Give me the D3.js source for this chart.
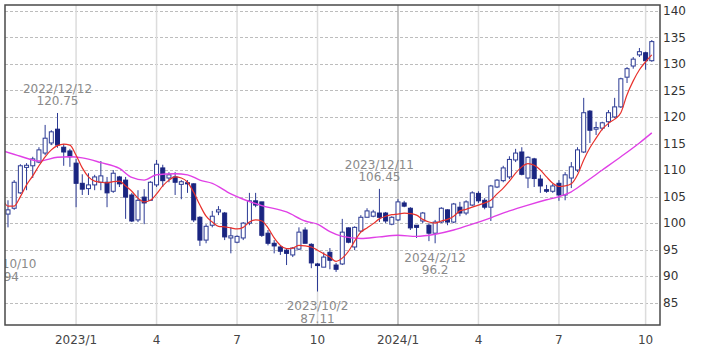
<!DOCTYPE html>
<html>
<head>
<meta charset="utf-8">
<script src="https://cdn.jsdelivr.net/npm/d3@7"></script>
<style>
  body { margin: 0; background: #fff; }
  text { font-family: "DejaVu Sans", Verdana, sans-serif; }
</style>
</head>
<body>
<div id="chart"></div>
<script>
// weekly candles, first week 2022/10/10
const firstWeek = "2022-10-10";

const opens = [
  103.5, 101.7, 102.8, 105.7, 110.5, 110.8, 111.5, 113.2, 115.1, 117.7,
  114.3, 113.6, 111.3, 107.5, 106.5, 107.2, 107.7, 107.7, 106.0, 108.7,
  108.1, 105.3, 100.6, 104.9, 104.3, 107.2, 110.4, 108.5, 108.7, 107.3,
  107.6, 107.4, 101.1, 96.8, 99.6, 102.1, 101.9, 97.2, 96.4, 97.2,
  100.0, 104.2, 104.0, 98.1, 96.2, 95.5, 94.9, 94.0, 95.1, 98.7,
  96.0, 92.3, 91.7, 94.5, 92.1, 92.3, 99.1, 95.5, 98.5, 101.1,
  101.3, 101.9, 101.9, 99.8, 100.6, 103.8, 102.8, 99.6, 100.4, 99.6,
  98.1, 100.2, 102.5, 100.2, 103.0, 101.9, 103.4, 105.6, 104.3, 103.0,
  106.8, 108.0, 108.7, 111.9, 113.4, 108.5, 112.1, 108.3, 106.3, 106.0,
  107.5, 105.3, 108.5, 110.0, 113.4, 121.1, 117.7, 117.9, 119.1, 120.0,
  121.9, 127.5, 129.6, 131.7, 132.1, 130.6
];
const highs = [
  104.0, 104.3, 108.1, 111.1, 111.3, 112.5, 114.3, 118.5, 117.5, 120.75,
  114.9, 114.0, 112.1, 109.2, 109.4, 109.1, 111.7, 108.7, 110.0, 108.9,
  108.7, 105.7, 106.2, 106.4, 107.9, 111.9, 111.0, 109.6, 109.6, 108.1,
  108.1, 107.5, 101.3, 99.8, 102.3, 103.2, 102.1, 99.2, 97.7, 100.2,
  105.7, 105.7, 104.0, 98.7, 96.8, 95.8, 95.3, 95.5, 99.2, 99.2,
  96.2, 92.5, 94.5, 95.3, 92.5, 100.8, 99.2, 99.4, 101.5, 102.8,
  102.5, 106.45, 102.1, 101.3, 104.5, 104.2, 103.0, 99.6, 102.1, 100.0,
  100.6, 103.0, 102.6, 103.8, 104.0, 104.3, 106.0, 106.0, 104.7, 107.2,
  108.3, 110.8, 112.6, 114.0, 114.3, 112.6, 112.3, 109.1, 107.2, 107.4,
  108.1, 109.6, 111.5, 114.3, 123.6, 121.3, 119.1, 119.1, 121.3, 123.6,
  127.4, 129.4, 131.3, 133.0, 132.3, 134.5
];
const lows = [
  94.94, 99.2, 102.5, 105.5, 106.2, 108.5, 111.3, 112.8, 114.7, 114.2,
  110.8, 110.6, 103.0, 105.3, 105.3, 106.2, 106.2, 103.0, 105.7, 106.8,
  100.8, 100.2, 100.2, 99.8, 104.2, 106.8, 106.8, 107.7, 105.3, 104.5,
  105.7, 100.2, 95.7, 96.2, 99.2, 101.5, 96.8, 94.3, 96.2, 96.8,
  99.6, 103.0, 97.4, 95.8, 94.3, 94.0, 92.1, 93.6, 94.9, 96.2,
  91.5, 87.11, 91.7, 91.3, 90.8, 92.1, 96.2, 94.9, 98.3, 101.1,
  101.1, 100.2, 100.0, 99.6, 100.4, 103.0, 98.7, 97.2, 100.0, 96.6,
  96.2, 100.0, 99.6, 100.0, 101.3, 101.5, 103.2, 103.8, 102.6, 100.4,
  106.6, 107.7, 108.3, 111.5, 109.0, 106.6, 106.8, 105.7, 105.7, 105.7,
  104.2, 104.3, 106.6, 109.6, 113.2, 115.1, 116.6, 117.5, 118.1, 119.8,
  121.7, 126.4, 129.1, 131.3, 128.9, 130.4
];
const closes = [
  101.0, 102.5, 107.7, 110.8, 110.9, 112.1, 113.8, 116.0, 117.2, 114.7,
  113.4, 112.5, 107.5, 106.4, 107.2, 108.7, 108.9, 105.7, 109.4, 107.4,
  104.9, 100.4, 104.3, 103.8, 107.7, 111.1, 108.0, 109.1, 107.7, 107.8,
  107.4, 100.6, 96.8, 99.4, 101.3, 102.5, 97.4, 97.6, 97.5, 100.0,
  104.2, 103.4, 97.7, 96.2, 95.7, 94.7, 94.3, 95.3, 98.3, 96.2,
  92.5, 92.0, 93.6, 93.0, 91.3, 98.3, 96.4, 99.2, 101.1, 102.3,
  102.1, 101.1, 100.4, 101.1, 104.0, 103.2, 99.1, 99.2, 101.9, 98.1,
  100.2, 102.8, 100.2, 103.6, 101.9, 104.0, 105.7, 104.2, 103.0, 107.0,
  108.1, 110.4, 112.0, 113.2, 109.2, 112.4, 108.4, 107.0, 106.0, 107.0,
  105.3, 109.1, 110.6, 113.8, 120.8, 117.5, 118.0, 118.9, 120.8, 121.9,
  127.2, 129.1, 130.9, 132.3, 130.6, 134.2
];

// short moving average (red), one value per week
const maShort = [
  104.9, 103.2, 103.2, 105.0, 107.2, 108.9, 110.8, 112.5, 113.8, 114.6,
  114.9, 114.7, 112.8, 110.4, 108.7, 107.9, 107.7, 107.6, 107.8, 107.9,
  107.0, 106.0, 104.7, 104.0, 104.3, 105.5, 107.0, 108.1, 108.7, 108.5,
  107.7, 105.8, 103.4, 101.3, 100.2, 99.4, 99.3, 99.1, 98.9, 99.2,
  100.2, 100.6, 100.4, 99.1, 97.2, 95.8, 95.2, 95.3, 95.8, 95.7,
  95.5, 94.9, 94.2, 93.6, 92.8, 93.4, 94.7, 96.6, 98.3, 99.1,
  99.9, 100.8, 101.3, 101.6, 101.7, 101.9, 101.8, 101.5, 100.7, 100.2,
  100.0, 100.4, 100.7, 101.3, 102.3, 102.6, 103.0, 103.4, 103.8, 104.3,
  105.5, 106.6, 107.9, 109.4, 110.6, 111.2, 110.9, 110.0, 108.7, 107.5,
  106.9, 107.0, 107.4, 109.1, 111.9, 114.2, 116.0, 117.7, 118.8, 119.6,
  120.8, 124.2, 126.8, 128.9, 130.4, 131.7
];

// long moving average (magenta), read every few weeks
const maLongWeeks = [0, 3, 6, 9, 11, 13, 16, 19, 21, 23, 25, 28, 30, 32, 34, 37, 39, 42, 46, 49,
  51, 53, 55, 58, 61, 64, 67, 70, 73, 76, 79, 82, 85, 88, 90, 92, 94, 97, 100, 103, 105];
const maLongValues = [113.7, 112.6, 111.7, 112.4, 112.5, 112.3, 111.4, 110.3, 108.6, 108.1,
  109.1, 109.3, 109.1, 108.1, 107.5, 105.5, 104.5, 103.3, 102.1, 100.4,
  99.8, 98.4, 97.5, 97.1, 97.4, 97.7, 97.5, 97.9, 98.7, 99.8,
  101.0, 102.3, 103.4, 104.4, 105.0, 105.9, 107.5, 110.0, 112.5, 115.1, 117.0];

const tickDates = ["2023-01-02", "2023-04-03", "2023-07-03", "2023-10-02",
  "2024-01-01", "2024-04-01", "2024-07-01", "2024-10-07"];
const tickLabels = ["2023/1", "4", "7", "10", "2024/1", "4", "7", "10"];
const yTicks = [85, 90, 95, 100, 105, 110, 115, 120, 125, 130, 135, 140];

const noteDates = ["2022-10-10", "2022-12-12", "2023-10-02", "2023-12-11", "2024-02-12"];
const noteValues = [94.94, 120.75, 87.11, 106.45, 96.2];
const noteSides = ["low", "high", "low", "high", "low"];

const width = 709;
const height = 354;
const plot = { left: 5, top: 5, right: 660, bottom: 325 };

const parse = d3.utcParse("%Y-%m-%d");
const fmt = d3.utcFormat("%Y/%-m/%-d");
const start = parse(firstWeek);
const weekDate = i => d3.utcDay.offset(start, 7 * i);

const candles = opens.map((o, i) => ({
  date: weekDate(i), open: o, high: highs[i], low: lows[i], close: closes[i]
}));

const x = d3.scaleUtc()
  .domain([start, weekDate(opens.length - 1)])
  .range([1.8, 651.8]);

const y = d3.scaleLinear()
  .domain([80.8, 141.1])
  .range([plot.bottom, plot.top]);

const svg = d3.select("#chart")
  .append("svg")
  .attr("width", width)
  .attr("height", height);

svg.append("defs").append("clipPath")
  .attr("id", "plot-clip")
  .append("rect")
  .attr("x", plot.left)
  .attr("y", plot.top)
  .attr("width", plot.right - plot.left)
  .attr("height", plot.bottom - plot.top);

// grid
svg.append("g")
  .selectAll("line")
  .data(yTicks)
  .enter().append("line")
  .attr("x1", plot.left)
  .attr("x2", plot.right)
  .attr("y1", d => Math.round(y(d)) + 0.5)
  .attr("y2", d => Math.round(y(d)) + 0.5)
  .attr("stroke", "#bdbdbd")
  .attr("stroke-dasharray", "3,2");

svg.append("g")
  .selectAll("line")
  .data(tickDates)
  .enter().append("line")
  .attr("x1", d => x(parse(d)))
  .attr("x2", d => x(parse(d)))
  .attr("y1", plot.top)
  .attr("y2", plot.bottom)
  .attr("stroke", d => d === "2024-01-01" ? "#b5b5b5" : "#dcdcdc")
  .attr("stroke-width", 1.5);

const chart = svg.append("g").attr("clip-path", "url(#plot-clip)");

// candles
const candle = chart.append("g")
  .selectAll("g")
  .data(candles)
  .enter().append("g");

candle.append("line")
  .attr("x1", d => x(d.date))
  .attr("x2", d => x(d.date))
  .attr("y1", d => y(d.high))
  .attr("y2", d => y(d.low))
  .attr("stroke", "#2b3a94")
  .attr("stroke-width", 1);

candle.append("rect")
  .attr("x", d => x(d.date) - 2)
  .attr("width", 4)
  .attr("y", d => y(Math.max(d.open, d.close)))
  .attr("height", d => Math.max(1, Math.abs(y(d.open) - y(d.close))))
  .attr("fill", d => d.close >= d.open ? "#fff" : "#1a2580")
  .attr("stroke", d => d.close >= d.open ? "#2b3a94" : "#1a2580")
  .attr("stroke-width", 1);

// moving averages
const longLine = d3.line()
  .x(d => x(weekDate(d[0])))
  .y(d => y(d[1]))
  .curve(d3.curveMonotoneX);

chart.append("path")
  .datum(maLongWeeks.map((w, i) => [w, maLongValues[i]]))
  .attr("d", longLine)
  .attr("fill", "none")
  .attr("stroke", "#e040e6")
  .attr("stroke-width", 1.4);

const shortLine = d3.line()
  .x((d, i) => x(weekDate(i)))
  .y(d => y(d))
  .curve(d3.curveMonotoneX);

chart.append("path")
  .datum(maShort)
  .attr("d", shortLine)
  .attr("fill", "none")
  .attr("stroke", "#e8312c")
  .attr("stroke-width", 1.2);

// high / low notes
const note = chart.append("g")
  .selectAll("text")
  .data(noteDates)
  .enter().append("text")
  .attr("text-anchor", "middle")
  .attr("font-size", "12px")
  .attr("fill", "#8a8a8a")
  .attr("x", d => x(parse(d)));

note.each(function(d, i) {
  const t = d3.select(this);
  const base = y(noteValues[i]);
  const y1 = noteSides[i] === "low" ? base + 18.5 : base - 20;
  t.append("tspan").attr("x", x(parse(d))).attr("y", y1).text(fmt(parse(d)));
  t.append("tspan").attr("x", x(parse(d))).attr("y", y1 + 12.5).text(String(noteValues[i]));
});

// frame
svg.append("rect")
  .attr("x", plot.left)
  .attr("y", plot.top)
  .attr("width", plot.right - plot.left)
  .attr("height", plot.bottom - plot.top)
  .attr("fill", "none")
  .attr("stroke", "#4a4a4a")
  .attr("stroke-width", 1.5);

// y labels on the right
svg.append("g")
  .selectAll("text")
  .data(yTicks)
  .enter().append("text")
  .attr("x", plot.right + 3)
  .attr("y", d => y(d))
  .attr("dy", "0.35em")
  .attr("font-size", "12px")
  .attr("fill", "#333")
  .text(d => d);

// x labels
svg.append("g")
  .selectAll("text")
  .data(tickDates)
  .enter().append("text")
  .attr("x", d => x(parse(d)))
  .attr("y", 344)
  .attr("text-anchor", "middle")
  .attr("font-size", "12px")
  .attr("fill", "#444")
  .text((d, i) => tickLabels[i]);
</script>
</body>
</html>
